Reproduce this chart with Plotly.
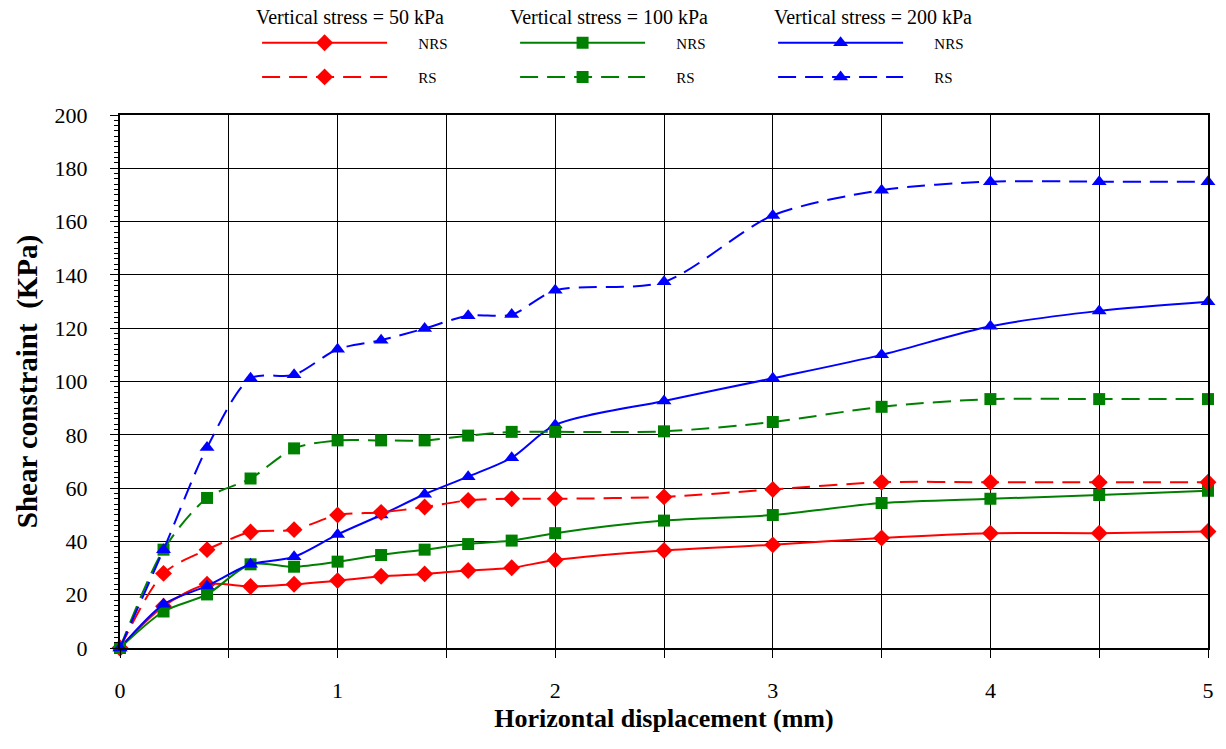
import plotly.graph_objects as go

# ---- data ----
disp = [0, 0.2, 0.4, 0.6, 0.8, 1.0, 1.2, 1.4, 1.6, 1.8, 2.0, 2.5, 3.0, 3.5, 4.0, 4.5, 5.0]

nrs_50 = [0, 15.7, 23.9, 23.1, 23.9, 25.3, 26.9, 27.8, 29.1, 30.1, 33.0, 36.6, 38.7, 41.3, 43.1, 43.1, 43.7]
nrs_100 = [0, 13.7, 20.1, 31.4, 30.5, 32.4, 34.9, 36.9, 39.0, 40.3, 43.1, 47.8, 49.9, 54.4, 56.0, 57.4, 59.0]
nrs_200 = [0, 16.4, 23.3, 31.4, 34.2, 42.6, 49.9, 57.7, 64.3, 71.4, 83.7, 92.7, 101.2, 110.0, 120.7, 126.5, 129.9]
rs_50 = [0, 28.0, 36.9, 43.5, 44.4, 49.9, 50.9, 52.9, 55.4, 56.0, 56.0, 56.7, 59.5, 62.2, 62.2, 62.2, 62.2]
rs_100 = [0, 36.9, 56.3, 63.6, 74.9, 77.9, 77.9, 77.9, 79.7, 81.1, 81.1, 81.3, 84.8, 90.5, 93.4, 93.4, 93.4]
rs_200 = [0, 36.9, 75.2, 101.2, 102.5, 112.1, 115.5, 119.9, 124.7, 125.1, 134.2, 137.4, 162.3, 171.8, 175.0, 175.0, 175.0]

stress_titles = ["Vertical stress = 50 kPa", "Vertical stress = 100 kPa", "Vertical stress = 200 kPa"]
x_tick_vals = [0, 1, 2, 3, 4, 5]
y_tick_vals = list(range(0, 201, 20))

RED, GREEN, BLUE = "#FF0000", "#008000", "#0000FF"
SERIF = "Liberation Serif, Times New Roman, serif"
DASH = "18px,9px"
PAD = "\u00a0" * 7

series = [
    ("NRS", nrs_50, RED, "diamond", 13, "solid", "legend"),
    ("NRS", nrs_100, GREEN, "square", 12, "solid", "legend"),
    ("NRS", nrs_200, BLUE, "triangle-up", 13, "solid", "legend"),
    ("RS", rs_50, RED, "diamond", 13, DASH, "legend2"),
    ("RS", rs_100, GREEN, "square", 12, DASH, "legend2"),
    ("RS", rs_200, BLUE, "triangle-up", 13, DASH, "legend2"),
]

fig = go.Figure()
for name, ys, col, sym, msz, dash, leg in series:
    fig.add_trace(go.Scatter(
        x=disp, y=ys, name=PAD + name, mode="lines+markers",
        line=dict(color=col, width=2, dash=dash, shape="spline", smoothing=0.8),
        marker=dict(symbol=sym, size=msz, color=col),
        cliponaxis=False, legend=leg,
    ))

# headings for legend columns
head_x = [0.211, 0.449, 0.692]
for hx, txt in zip(head_x, stress_titles):
    fig.add_annotation(
        x=hx, y=1.184, xref="paper", yref="paper", text=txt, showarrow=False,
        font=dict(family=SERIF, size=20, color="black"), xanchor="center", yanchor="middle",
    )

legend_common = dict(
    orientation="h", x=0.126, xanchor="left", yanchor="middle",
    entrywidth=118, itemwidth=125, font=dict(family=SERIF, size=15, color="black"),
    traceorder="normal", bgcolor="rgba(0,0,0,0)",
)

fig.update_layout(
    width=1226, height=749,
    margin=dict(l=120, r=12, t=115, b=101),
    paper_bgcolor="white", plot_bgcolor="white",
    font=dict(family=SERIF, color="black"),
    legend=dict(y=1.135, **legend_common),
    legend2=dict(y=1.071, **legend_common),
    xaxis=dict(
        range=[0, 5], tickvals=x_tick_vals, ticktext=[str(v) for v in x_tick_vals],
        showgrid=True, gridcolor="black", gridwidth=1,
        minor=dict(dtick=0.5, showgrid=True, gridcolor="black", gridwidth=1, ticks="outside", ticklen=8, tickcolor="black"),
        ticks="outside", ticklen=8, tickcolor="black",
        showline=True, linecolor="black", linewidth=2, mirror=True,
        zeroline=False, ticklabelstandoff=14,
        tickfont=dict(family=SERIF, size=22, color="black"),
        title=dict(text="<b>Horizontal displacement (mm)</b>", font=dict(family=SERIF, size=26, color="black"), standoff=6),
    ),
    yaxis=dict(
        range=[0, 200], tickvals=y_tick_vals,
        showgrid=True, gridcolor="black", gridwidth=1,
        minor=dict(dtick=2, showgrid=False, ticks="outside", ticklen=4, tickcolor="black"),
        ticks="outside", ticklen=8, tickcolor="black",
        showline=True, linecolor="black", linewidth=2, mirror=True,
        zeroline=False, ticklabelstandoff=18,
        tickfont=dict(family=SERIF, size=22, color="black"),
        title=dict(text="<b>Shear constraint  (KPa)</b>", font=dict(family=SERIF, size=29, color="black"), standoff=8),
    ),
)

fig.write_html("out.html")
